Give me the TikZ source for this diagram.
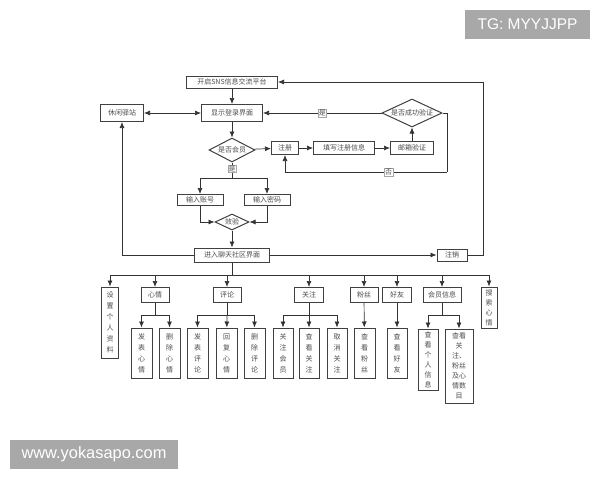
\documentclass[tikz,border=0pt]{standalone}
\usepackage{fontspec}
\newfontfamily\cjk{Noto Sans CJK SC}
\newfontfamily\wmfont{Liberation Sans}
\usetikzlibrary{arrows.meta,shapes.geometric}

\tikzset{
  box/.style={draw=black!75, line width=1pt, fill=white, inner sep=0pt,
    text=black!70, font=\cjk\fontsize{7}{8}\selectfont},
  vbox/.style={box, align=center, font=\cjk\fontsize{7}{11}\selectfont},
  decide/.style={diamond, draw=black!75, line width=1pt, fill=white,
    inner sep=0pt},
  dtext/.style={text=black!70, font=\cjk\fontsize{7}{8}\selectfont, inner sep=0pt},
  link/.style={draw=black!80, line width=0.7pt},
  arr/.style={link, -{Latex[length=6pt,width=5pt]}},
  lbl/.style={fill=white, draw=black!35, line width=0.3pt, inner sep=0.8pt,
    text=black!70, font=\cjk\fontsize{7}{7}\selectfont},
  wm/.style={fill=black!34, text=white, inner sep=0pt}
}

\begin{document}
\begin{tikzpicture}[x=1pt,y=-1pt]
 \useasboundingbox (0,0) rectangle (600,480);

% login part
 \node[box, minimum width=91, minimum height=12] (start) at (232,82) {开启SNS信息交流平台};
 \node[box, minimum width=61, minimum height=17] (login) at (232,113) {显示登录界面};
 \node[box, minimum width=43, minimum height=17] (leisure) at (122,113) {休闲驿站};
 \node[decide, minimum width=46, minimum height=24, label={[dtext]center:是否会员}] (member) at (232,150) {};
 \node[box, minimum width=27, minimum height=13] (reg) at (285,148) {注册};
 \node[box, minimum width=61, minimum height=13] (fill) at (344,148) {填写注册信息};
 \node[box, minimum width=43, minimum height=13] (mail) at (412,148) {邮箱验证};
 \node[decide, minimum width=60, minimum height=28, label={[dtext]center:是否成功验证}] (verify) at (412,113) {};
 \node[box, minimum width=46, minimum height=11] (acct) at (200,200) {输入账号};
 \node[box, minimum width=46, minimum height=11] (pwd) at (267,200) {输入密码};
 \node[decide, minimum width=34, minimum height=16, label={[dtext]center:效验}] (check) at (232,222) {};
 \node[box, minimum width=75, minimum height=14] (enter) at (232,255) {进入聊天社区界面};
 \node[box, minimum width=30, minimum height=12] (logout) at (452,255) {注销};

% free corners of the connectors
 \coordinate (vr) at (447,113);
 \coordinate (vb) at (447,172);
 \coordinate (outr) at (483,255);
 \coordinate (split) at (232,178);
 \coordinate (bus) at (232,275);

 \draw[arr] (start) -- (login);
 \draw[link, {Latex[length=6pt,width=5pt]}-{Latex[length=6pt,width=5pt]}] (leisure) -- (login);
 \draw[arr] (login) -- (member);
 \draw[arr] (member) -- (reg);
 \draw[arr] (reg) -- (fill);
 \draw[arr] (fill) -- (mail);
 \draw[arr] (mail) -- (verify);
 \draw[arr] (verify) -- node[lbl] {是} (login); % back to login
 \draw[link] (verify.east) -- (vr) -- (vb);
 \draw[arr] (vb) -- node[lbl, pos=0.36] {否} (vb -| reg) -- (reg); % try again
 \draw[arr] (logout) -- (outr) |- (start); % log out

 \draw[link] (member) -- node[lbl, pos=0.4] {是} (split);
 \draw[arr] (split) -| (acct);
 \draw[arr] (split) -| (pwd);
 \draw[arr] (acct) |- (check);
 \draw[arr] (pwd) |- (check);
 \draw[arr] (check) -- (enter);
 \draw[arr] (enter) -| (leisure);
 \draw[arr] (enter) -- (logout);

% community functions
 \node[vbox, minimum width=17, minimum height=71] (setinfo) at (110,322.5) {设\\置\\个\\人\\资\\料};
 \node[box, minimum width=28, minimum height=15] (mood) at (155,295) {心情};
 \node[box, minimum width=28, minimum height=15] (comment) at (227,295) {评论};
 \node[box, minimum width=29, minimum height=15] (follow) at (309,295) {关注};
 \node[box, minimum width=28, minimum height=15] (fans) at (364,295) {粉丝};
 \node[box, minimum width=29, minimum height=15] (friend) at (397,295) {好友};
 \node[box, minimum width=38, minimum height=15] (info) at (442,295) {会员信息};
 \node[vbox, minimum width=16, minimum height=41, font=\cjk\fontsize{7}{10}\selectfont] (search) at (489,307.5) {搜\\索\\心\\情};

 \draw[link] (enter) -- (bus);
 \draw[arr] (bus) -| (setinfo);
 \draw[arr] (bus) -| (mood);
 \draw[arr] (bus) -| (comment);
 \draw[arr] (bus) -| (follow);
 \draw[arr] (bus) -| (fans);
 \draw[arr] (bus) -| (friend);
 \draw[arr] (bus) -| (info);
 \draw[arr] (bus) -| (search);

% third row
 \node[vbox, minimum width=21, minimum height=50] (postmood) at (141.5,353) {发\\表\\心\\情};
 \node[vbox, minimum width=21, minimum height=50] (delmood) at (169.5,353) {删\\除\\心\\情};
 \node[vbox, minimum width=21, minimum height=50] (postcom) at (197.5,353) {发\\表\\评\\论};
 \node[vbox, minimum width=21, minimum height=50] (reply) at (226.5,353) {回\\复\\心\\情};
 \node[vbox, minimum width=21, minimum height=50] (delcom) at (254.5,353) {删\\除\\评\\论};
 \node[vbox, minimum width=20, minimum height=50] (followmem) at (283,353) {关\\注\\会\\员};
 \node[vbox, minimum width=20, minimum height=50] (viewfollow) at (309,353) {查\\看\\关\\注};
 \node[vbox, minimum width=20, minimum height=50] (unfollow) at (337,353) {取\\消\\关\\注};
 \node[vbox, minimum width=21, minimum height=50] (viewfans) at (364.5,353) {查\\看\\粉\\丝};
 \node[vbox, minimum width=20, minimum height=50] (viewfriend) at (397,353) {查\\看\\好\\友};
 \node[vbox, minimum width=20, minimum height=61, font=\cjk\fontsize{7}{10}\selectfont] (viewinfo) at (428,359.5) {查\\看\\个\\人\\信\\息};
 \node[vbox, minimum width=28, minimum height=74, font=\cjk\fontsize{7}{10}\selectfont] (viewcount) at (459,366) {查看\\关\\注、\\粉丝\\及心\\情数\\目};

 \coordinate (moodbus) at (155,315);
 \coordinate (combus) at (227,315);
 \coordinate (followbus) at (309,315);
 \coordinate (infobus) at (442,315);

 \draw[link] (mood) -- (moodbus);
 \draw[arr] (moodbus) -| (postmood);
 \draw[arr] (moodbus) -| (delmood);
 \draw[link] (comment) -- (combus);
 \draw[arr] (combus) -| (postcom);
 \draw[arr] (combus) -- (reply);
 \draw[arr] (combus) -| (delcom);
 \draw[link] (follow) -- (followbus);
 \draw[arr] (followbus) -| (followmem);
 \draw[arr] (followbus) -- (viewfollow);
 \draw[arr] (followbus) -| (unfollow);
 \draw[arr] (fans) -- (viewfans);
 \draw[arr] (friend) -- (viewfriend);
 \draw[link] (info) -- (infobus);
 \draw[arr] (infobus) -| (viewinfo);
 \draw[arr] (infobus) -| (viewcount);

% marks on the picture
 \node[wm, minimum width=125, minimum height=29, font=\wmfont\fontsize{15.5}{16}\selectfont] (tg) at (527.5,24.5) {TG: MYYJJPP};
 \node[wm, minimum width=168, minimum height=29, font=\wmfont\fontsize{16.4}{17}\selectfont] (site) at (94,454.5) {www.yokasapo.com};

\end{tikzpicture}
\end{document}
